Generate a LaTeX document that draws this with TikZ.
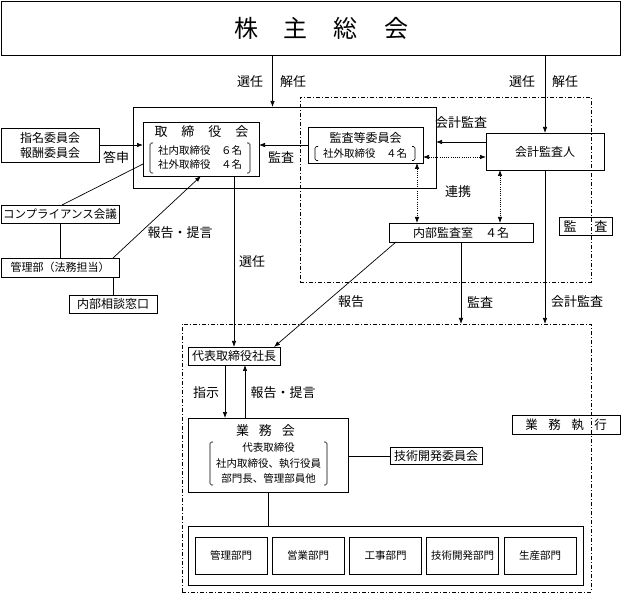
\documentclass[tikz,border=0pt]{standalone}
\usepackage{fontspec}
\setmainfont{Noto Sans CJK JP}
\usetikzlibrary{arrows.meta}
\newcommand{\kakko}[1]{%
  \draw[kakkoline] ([xshift=3pt]#1.north west) -- (#1.north west) -- (#1.south west) -- ([xshift=3pt]#1.south west);
  \draw[kakkoline] ([xshift=-3pt]#1.north east) -- (#1.north east) -- (#1.south east) -- ([xshift=-3pt]#1.south east);}
\begin{document}
\begin{tikzpicture}
[x=1pt,y=-1pt,
  boxdecorate/.style={shape=rectangle,draw,line width=0.8pt,inner sep=0pt,outer sep=0pt,align=center,
    font=\fontsize{12pt}{15pt}\selectfont},
  listdecorate/.style={shape=rectangle,inner sep=0pt,outer sep=0pt,align=center,
    font=\fontsize{10.5pt}{14pt}\selectfont},
  zonedecorate/.style={shape=rectangle,draw,line width=0.8pt,inner sep=0pt,outer sep=0pt,
    dash pattern=on 4pt off 2pt on 1pt off 2pt},
  labeldecorate/.style={inner sep=0pt,font=\fontsize{13pt}{15pt}\selectfont},
  arrowdecorate/.style={->,>={Latex[length=6pt,width=4.5pt]},line width=0.7pt},
  linkdecorate/.style={<->,>={Latex[length=6pt,width=4.5pt]},line width=0.7pt,dash pattern=on 1pt off 1.2pt},
  linedecorate/.style={line width=0.7pt},
  kakkoline/.style={line width=0.6pt,rounded corners=1.5pt}]
\useasboundingbox (0,0) rectangle (621,593);
%% zones
\node[zonedecorate,minimum width=291pt,minimum height=185pt] (auditzone) at (445.5,189.5) {};
\node[zonedecorate,minimum width=409pt,minimum height=268pt] (execzone) at (386.5,458) {};
%% boxes
\node[boxdecorate,minimum width=619pt,minimum height=54pt] (soukai) at (310.5,28) {};
\node[labeldecorate,font=\fontsize{24pt}{28pt}\selectfont] (soukaititle) at (321,28)
  {株\hspace{26pt}主\hspace{26pt}総\hspace{26pt}会};
\node[boxdecorate,minimum width=303pt,minimum height=81pt] (boardframe) at (284.5,147.5) {};
\node[boxdecorate,minimum width=116pt,minimum height=54pt] (board) at (201,149) {};
\node[labeldecorate] (boardtitle) at (201.5,132) {取\hspace{14pt}締\hspace{14pt}役\hspace{14pt}会};
\node[listdecorate,minimum width=100pt,minimum height=30pt] (boardlist) at (200,158)
  {社内取締役　６名\\社外取締役　４名};
\node[boxdecorate,minimum width=115pt,minimum height=36pt] (auditcom) at (365.5,145) {};
\node[labeldecorate,font=\fontsize{12pt}{14pt}\selectfont] (audittitle) at (365.5,137.5) {監査等委員会};
\node[listdecorate,minimum width=100pt,minimum height=14pt] (auditlist) at (365,153.5) {社外取締役　４名};
\foreach \nodename/\x/\y/\w/\h/\caption in {
  auditor/545/151.5/118/37/{会計監査人},
  naibu/461/232.5/144/19/{内部監査室　４名},
  nomin/50/145/98/34/{指名委員会\\報酬委員会},
  soudan/113/304/88/18/{内部相談窓口},
  daihyo/234/356/92/18/{代表取締役社長},
  gijutsu/436/456/92/17/{技術開発委員会}} {
  \node[boxdecorate,minimum width=\w pt,minimum height=\h pt] (\nodename) at (\x,\y) {\caption};
}
\node[boxdecorate,font=\fontsize{11.5pt}{14pt}\selectfont,minimum width=118pt,minimum height=18pt]
  (compliance) at (60,214) {コンプライアンス会議};
\node[boxdecorate,font=\fontsize{11pt}{14pt}\selectfont,minimum width=118pt,minimum height=19pt]
  (kanri) at (60,267.5) {管理部（法務担当）};
\node[boxdecorate,font=\fontsize{13pt}{15pt}\selectfont,minimum width=53pt,minimum height=18pt]
  (kansa) at (585.5,226) {監\hspace{18pt}査};
\node[boxdecorate,font=\fontsize{12.5pt}{15pt}\selectfont,minimum width=108pt,minimum height=19pt]
  (shikko) at (566,424.5) {業\hspace{10.5pt}務\hspace{10.5pt}執\hspace{10.5pt}行};
\node[boxdecorate,minimum width=160pt,minimum height=74pt] (gyomu) at (268,455) {};
\node[labeldecorate] (gyomutitle) at (265.5,431) {業\hspace{10pt}務\hspace{10pt}会};
\node[listdecorate,font=\fontsize{10.5pt}{15.5pt}\selectfont,minimum width=117pt,minimum height=43pt]
  (gyomulist) at (268.5,463.5) {代表取締役\\社内取締役、執行役員\\部門長、管理部員他};
\node[boxdecorate,minimum width=395pt,minimum height=59pt] (deptframe) at (385.5,555.5) {};
\foreach \nodename/\x/\caption in {dept1/231/管理部門, dept2/308/営業部門, dept3/385.5/工事部門,
  dept4/462.5/技術開発部門, dept5/540/生産部門} {
  \node[boxdecorate,font=\fontsize{10.5pt}{13pt}\selectfont,minimum width=72pt,minimum height=37pt]
    (\nodename) at (\x,555.5) {\caption};
}
%% brackets
\kakko{boardlist}
\kakko{auditlist}
\kakko{gyomulist}
%% labels
\foreach \nodename/\x/\y/\caption in {senninA/250/82/選任, kaininA/293/82/解任,
  senninB/522/82/選任, kaininB/565/82/解任, toushin/116/157/答申, kansaA/281/157/監査,
  kaikeiA/461/123/会計監査, renkei/458/192/連携, teigenA/180/233/報告・提言,
  senninC/252/262/選任, houkokuB/351/302/報告, kansaB/480/302/監査, kaikeiB/577/302/会計監査,
  shiji/206/393/指示, teigenB/283/393/報告・提言} {
  \node[labeldecorate] (\nodename) at (\x,\y) {\caption};
}
%% edges or lines
\coordinate (senA) at ([xshift=-12pt]boardframe.north);
\draw[arrowdecorate] (senA |- soukai.south) -- (senA);
\draw[arrowdecorate] (auditor.north |- soukai.south) -- (auditor.north);
\coordinate (kaikei) at ([yshift=9.5pt]auditor.west);
\draw[arrowdecorate] (kaikei) -- (kaikei -| boardframe.east);
\draw[arrowdecorate] (auditcom.west) -- (auditcom.west -| board.east);
\coordinate (renkeiA) at ([yshift=-12pt]auditcom.east);
\draw[linkdecorate] (renkeiA) -- (renkeiA -| auditor.west);
\coordinate (renkeiB) at ([xshift=-6pt]auditcom.south east);
\draw[linkdecorate] (renkeiB) -- (renkeiB |- naibu.north);
\coordinate (renkeiC) at ([xshift=-45pt]auditor.south);
\draw[linkdecorate] (renkeiC) -- (renkeiC |- naibu.north);
\draw[arrowdecorate] (nomin.east) -- (nomin.east -| board.west);
\draw[linedecorate] ([yshift=-15pt]board.west) -- ([xshift=2pt]compliance.north);
\draw[linedecorate] (compliance.south) -- (kanri.north);
\draw[arrowdecorate] ([xshift=53pt]kanri.north) -- (board.south);
\draw[linedecorate] (soudan.north |- kanri.south) -- (soudan.north);
\coordinate (senB) at ([xshift=33pt]board.south);
\draw[arrowdecorate] (senB) -- (senB |- daihyo.north);
\draw[arrowdecorate] ([xshift=7pt]naibu.south west) -- ([xshift=-6pt]daihyo.north east);
\draw[arrowdecorate] (naibu.south) -- (naibu.south |- execzone.north);
\draw[arrowdecorate] (auditor.south) -- (auditor.south |- execzone.north);
\coordinate (shijiA) at ([xshift=-9pt]daihyo.south);
\draw[arrowdecorate] (shijiA) -- (shijiA |- gyomu.north);
\coordinate (teigenC) at ([xshift=11pt]daihyo.south);
\draw[arrowdecorate] (teigenC |- gyomu.north) -- (teigenC);
\draw[linedecorate] (gyomu.east |- gijutsu.west) -- (gijutsu.west);
\draw[linedecorate] (gyomu.south) -- (gyomu.south |- deptframe.north);
\end{tikzpicture}
\end{document}
